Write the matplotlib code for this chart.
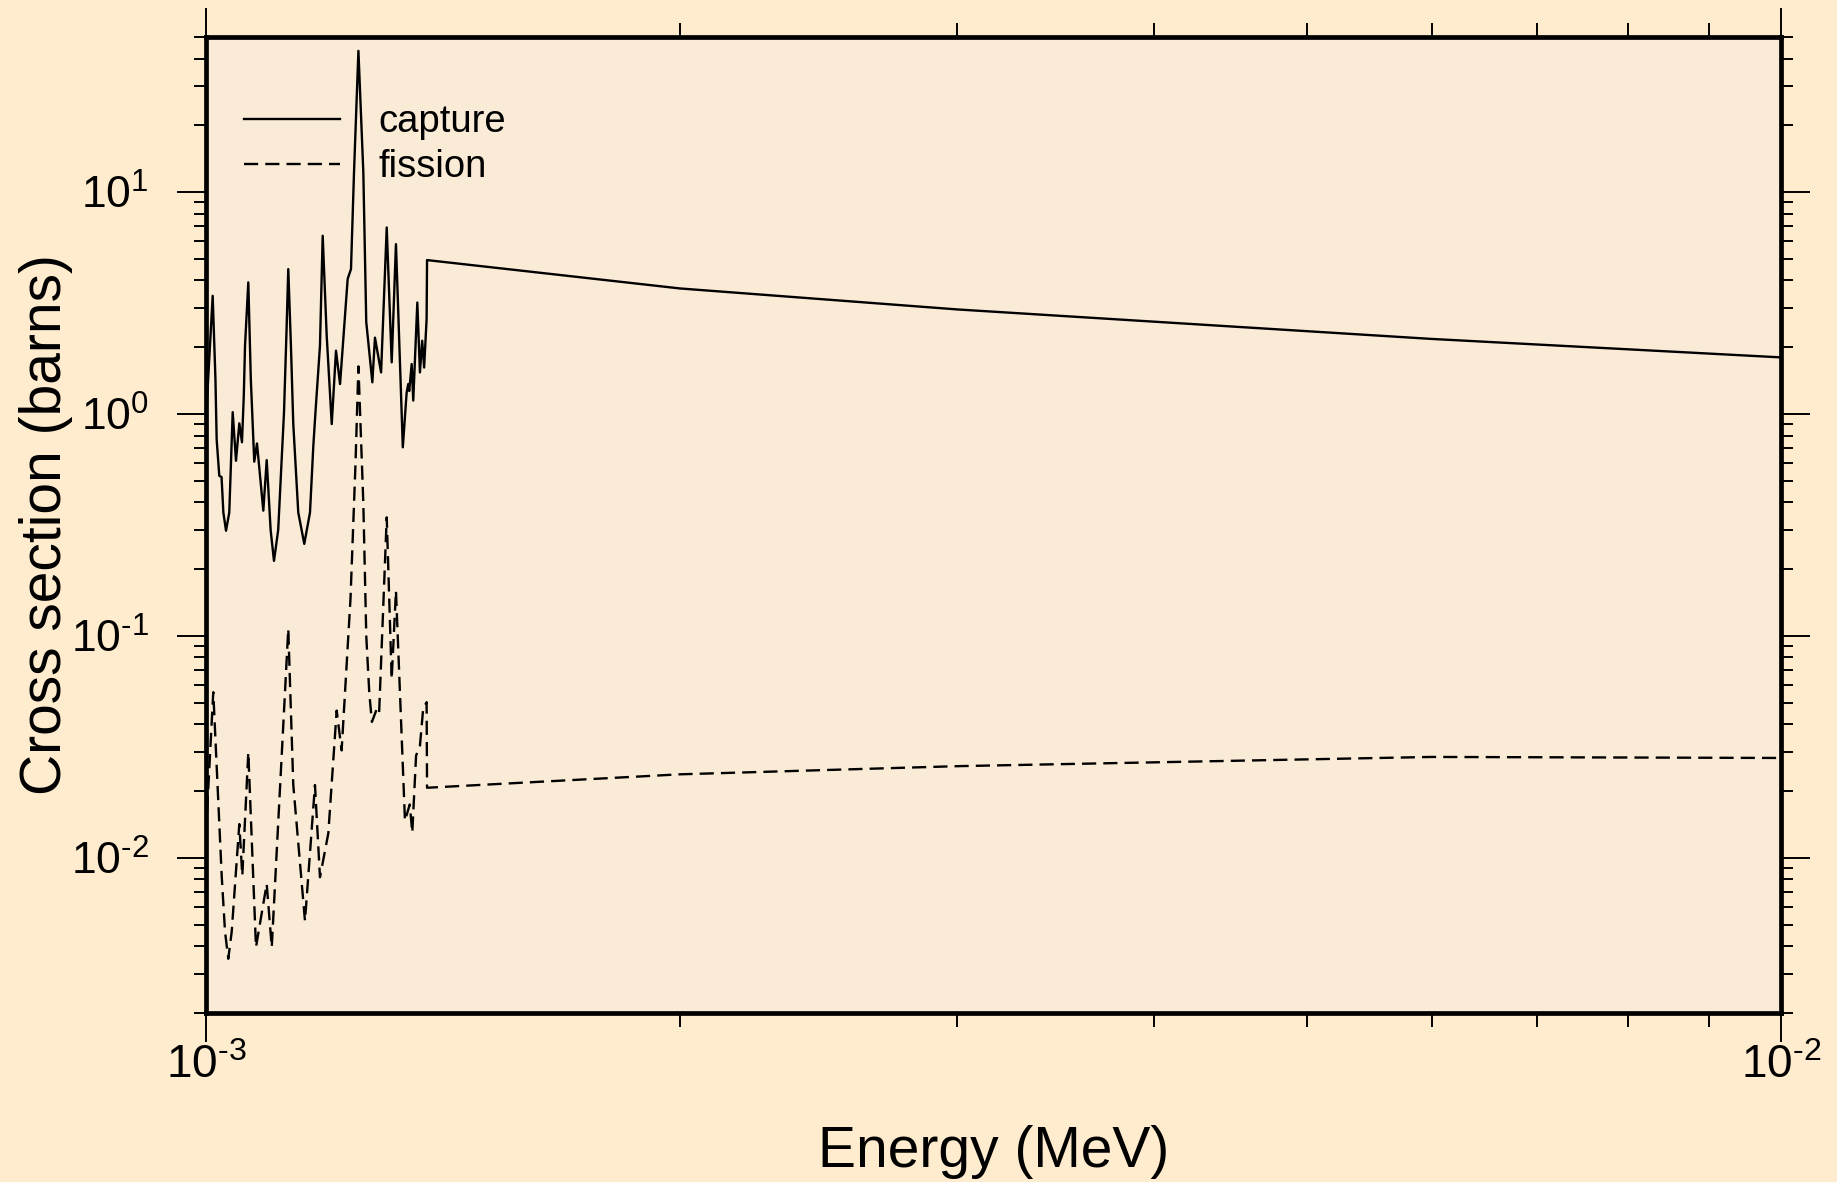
import numpy as np
import matplotlib
matplotlib.use("Agg")
import matplotlib.pyplot as plt
from matplotlib.ticker import LogLocator, NullFormatter

# energies in MeV, cross sections in barns
cap_e = [1.0000e-3, 1.0098e-3, 1.0139e-3, 1.0157e-3, 1.0196e-3, 1.0230e-3,
         1.0257e-3, 1.0297e-3, 1.0346e-3, 1.0398e-3,
         1.0448e-3, 1.0499e-3, 1.0540e-3, 1.0568e-3, 1.0587e-3, 1.0638e-3,
         1.0677e-3, 1.0731e-3, 1.0774e-3,
         1.0874e-3, 1.0928e-3, 1.0991e-3, 1.1045e-3, 1.1113e-3, 1.1208e-3,
         1.1250e-3, 1.1278e-3, 1.1322e-3, 1.1361e-3, 1.1444e-3, 1.1545e-3,
         1.1642e-3, 1.1699e-3, 1.1739e-3, 1.1813e-3, 1.1860e-3, 1.1930e-3,
         1.2018e-3, 1.2093e-3, 1.2165e-3,
         1.2301e-3, 1.2361e-3, 1.2416e-3, 1.2496e-3, 1.2586e-3, 1.2640e-3,
         1.2753e-3, 1.2802e-3, 1.2917e-3, 1.3024e-3, 1.3119e-3, 1.3201e-3,
         1.3334e-3, 1.3409e-3, 1.3440e-3, 1.3460e-3, 1.3508e-3, 1.3539e-3,
         1.3620e-3, 1.3672e-3, 1.3717e-3, 1.3756e-3, 1.3806e-3, 1.3815e-3,
         2.0e-3, 3.0e-3, 6.0e-3, 1.0e-2]
cap_xs = [0.95, 3.41, 1.44, 0.77, 0.527, 0.52,
          0.36, 0.298, 0.36, 1.02,
          0.616, 0.908, 0.746, 1.21, 2.03, 3.92,
          1.44, 0.610, 0.737,
          0.367, 0.620, 0.30, 0.218, 0.30, 1.02,
          2.41, 4.50, 2.03, 0.901, 0.36, 0.260,
          0.36, 0.72, 1.053, 2.03, 6.36, 2.25,
          0.901, 1.93, 1.365,
          4.06, 4.50, 12.3, 43.3, 12.3, 2.6,
          1.39, 2.21, 1.54, 6.93, 1.71, 5.83,
          0.708, 1.25, 1.365, 1.27, 1.68, 1.15,
          3.18, 1.54, 2.14, 1.62, 2.68, 4.94,
          3.68, 2.96, 2.18, 1.80]

fis_e = [1.0000e-3, 1.0107e-3, 1.0232e-3, 1.0282e-3, 1.0331e-3, 1.0383e-3,
         1.0499e-3, 1.0545e-3,
         1.0638e-3, 1.0758e-3, 1.0928e-3, 1.1009e-3, 1.1278e-3, 1.1361e-3,
         1.1557e-3, 1.1727e-3, 1.1813e-3, 1.1958e-3, 1.2105e-3, 1.2193e-3,
         1.2352e-3, 1.2442e-3, 1.2496e-3, 1.2586e-3, 1.2641e-3, 1.2697e-3,
         1.2745e-3, 1.2838e-3, 1.2880e-3, 1.3024e-3, 1.3119e-3,
         1.3201e-3, 1.3376e-3, 1.3470e-3, 1.3520e-3, 1.3595e-3, 1.3672e-3,
         1.3737e-3, 1.3806e-3, 1.3815e-3,
         2.0e-3, 3.0e-3, 6.0e-3, 1.0e-2]
fis_xs = [0.0131, 0.0558, 0.00832, 0.00465, 0.00351, 0.00465,
          0.0142, 0.00832,
          0.0299, 0.00396, 0.00764, 0.00396, 0.1075, 0.0213,
          0.00520, 0.0213, 0.00818, 0.0129, 0.0461, 0.0305,
          0.147, 0.59, 1.64, 0.397, 0.099, 0.055,
          0.041, 0.047, 0.045, 0.3425, 0.0640,
          0.160, 0.0147, 0.0174, 0.0130, 0.0289, 0.0320,
          0.0470, 0.0503, 0.0207,
          0.0238, 0.0259, 0.0285, 0.0282]

xtick_vals = [1e-3, 1e-2]
xtick_labels = [r"$\mathregular{10^{\text{-}3}}$", r"$\mathregular{10^{\text{-}2}}$"]
ytick_vals = [1e-2, 1e-1, 1e0, 1e1]
ytick_labels = [r"$\mathregular{10^{\text{-}2}}$", r"$\mathregular{10^{\text{-}1}}$",
                r"$\mathregular{10^{0}}$", r"$\mathregular{10^{1}}$"]

plt.rcParams["font.family"] = ["Liberation Sans", "DejaVu Sans"]
plt.rcParams["mathtext.fontset"] = "custom"
plt.rcParams["mathtext.rm"] = "Liberation Sans"
plt.rcParams["mathtext.it"] = "Liberation Sans:italic"
plt.rcParams["mathtext.bf"] = "Liberation Sans:bold"

fig = plt.figure(figsize=(18.37, 11.82), dpi=100, facecolor="#FFEBCD")
ax = fig.add_axes([206 / 1837, 1 - 1013 / 1182, 1575 / 1837, 976 / 1182])
ax.set_facecolor("#FAEBD7")

ax.plot(cap_e, cap_xs, color="black", lw=1.7, label="capture")
ax.plot(fis_e, fis_xs, color="black", lw=1.7, linestyle=(0, (6, 3)),
        label="fission")

ax.set_xscale("log")
ax.set_yscale("log")
ax.set_xlim(1e-3, 1e-2)
ax.set_ylim(2e-3, 50)

ax.set_xticks(xtick_vals)
ax.set_xticklabels(xtick_labels)
ax.set_yticks(ytick_vals)
ax.set_yticklabels(ytick_labels)
ax.xaxis.set_minor_locator(LogLocator(base=10, subs=np.arange(2, 10)))
ax.yaxis.set_minor_locator(LogLocator(base=10, subs=np.arange(2, 10), numticks=20))
ax.xaxis.set_minor_formatter(NullFormatter())
ax.yaxis.set_minor_formatter(NullFormatter())

ax.tick_params(which="both", direction="out", top=True, right=True,
               width=1.4, color="black")
ax.tick_params(axis="x", which="major", length=21, pad=1, labelsize=33)
ax.tick_params(axis="x", which="minor", length=10)
ax.tick_params(axis="y", which="major", length=21, pad=20, labelsize=32)
ax.tick_params(axis="y", which="minor", length=8.5)

for sp in ax.spines.values():
    sp.set_linewidth(3.4)

ax.set_xlabel("Energy (MeV)", fontsize=41)
ax.xaxis.label.set_va("baseline")
ax.xaxis.set_label_coords(0.5, -0.158)
ax.set_ylabel("Cross section (barns)", fontsize=41)
ax.yaxis.label.set_va("baseline")
ax.yaxis.set_label_coords(-0.092, 0.5)

ax.legend(loc="upper left", bbox_to_anchor=(0.0244, 0.931), frameon=False,
          fontsize=27.5, handlelength=2.5, handletextpad=1.0,
          labelspacing=0.23, borderpad=0, borderaxespad=0)

fig.savefig("out.png", dpi=100, facecolor=fig.get_facecolor())
